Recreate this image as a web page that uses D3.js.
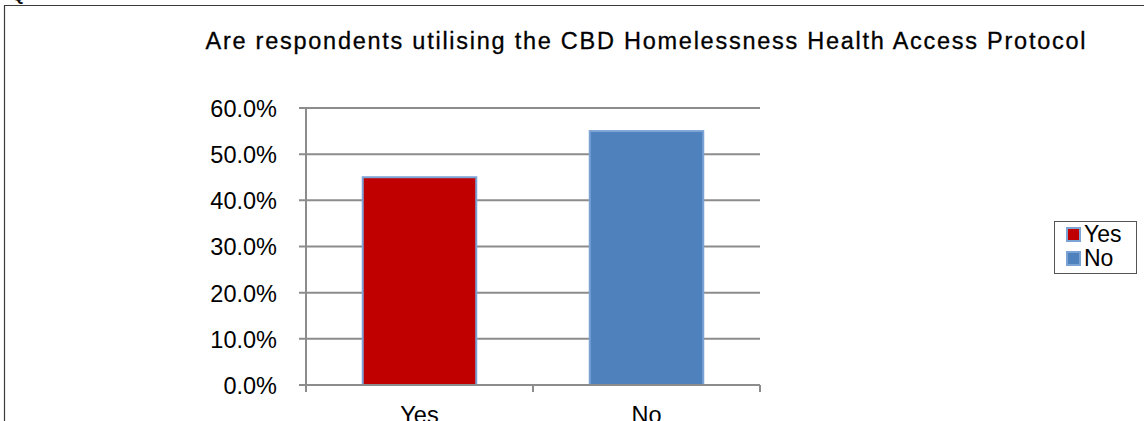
<!DOCTYPE html>
<html>
<head>
<meta charset="utf-8">
<script src="https://cdn.jsdelivr.net/npm/d3@7"></script>
<style>
  html, body { margin: 0; padding: 0; background: #fff; }
  svg { display: block; font-family: "Liberation Sans", Arial, sans-serif; }
</style>
</head>
<body>
<svg id="chart" width="1144" height="421"></svg>
<script>
// Survey answers
const categories = ["Yes", "No"];
const shares = [0.45, 0.55];
const barColors = ["#c00000", "#4f81bd"];
const yTicks = [0, 0.1, 0.2, 0.3, 0.4, 0.5, 0.6];
const title = "Are respondents utilising the CBD Homelessness Health Access Protocol";

const svg = d3.select("#chart");

// Frame around the chart area
svg.append("path")
  .attr("d", "M4.5,421 L4.5,5.5 L1144,5.5")
  .attr("fill", "none")
  .attr("stroke", "#3a3a3a")
  .attr("stroke-width", 1.2);

// Fragment of the preceding line of text above the frame
svg.append("text")
  .attr("x", 12).attr("y", 1)
  .attr("font-size", 16).attr("font-weight", "bold")
  .attr("fill", "#111")
  .text("Q");

const plot = { left: 306, right: 760, top: 108, bottom: 385 };

const x = d3.scaleBand()
  .domain(categories)
  .range([plot.left, plot.right])
  .paddingInner(0.5)
  .paddingOuter(0.25);

const y = d3.scaleLinear()
  .domain([0, 0.6])
  .range([plot.bottom, plot.top]);

// Title
svg.append("text")
  .attr("x", 645.5).attr("y", 49)
  .attr("text-anchor", "middle")
  .attr("font-size", 23.5)
  .attr("textLength", 880)
  .attr("lengthAdjust", "spacing")
  .attr("fill", "#000")
  .attr("stroke", "#000")
  .attr("stroke-width", 0.3)
  .text(title);

// Horizontal gridlines
svg.append("g")
  .selectAll("line")
  .data(yTicks)
  .join("line")
  .attr("x1", plot.left - 7).attr("x2", plot.right)
  .attr("y1", d => y(d)).attr("y2", d => y(d))
  .attr("stroke", "#8c8c8c")
  .attr("stroke-width", 2);

// Y axis labels
const yAxis = d3.axisLeft(y)
  .tickValues(yTicks)
  .tickFormat(d3.format(".1%"))
  .tickSize(0)
  .tickPadding(0);

const gy = svg.append("g")
  .attr("transform", `translate(${plot.left - 29},0)`)
  .call(yAxis);
gy.select(".domain").remove();
gy.selectAll("text")
  .attr("font-size", 23.5)
  .attr("fill", "#000")
  .attr("dy", "0.36em");

// Bars
svg.append("g")
  .selectAll("rect")
  .data(categories)
  .join("rect")
  .attr("x", d => x(d))
  .attr("width", x.bandwidth())
  .attr("y", (d, i) => y(shares[i]))
  .attr("height", (d, i) => y(0) - y(shares[i]))
  .attr("fill", (d, i) => barColors[i])
  .attr("stroke", "#7ba3d6")
  .attr("stroke-width", 2);

// Y axis line
svg.append("line")
  .attr("x1", plot.left).attr("x2", plot.left)
  .attr("y1", plot.top).attr("y2", plot.bottom)
  .attr("stroke", "#8c8c8c")
  .attr("stroke-width", 2);

// X axis line, category boundary ticks and labels
const xAxis = d3.axisBottom(x).tickSize(0).tickPadding(0);
const gx = svg.append("g")
  .attr("transform", `translate(0,${plot.bottom})`)
  .call(xAxis);
gx.select(".domain")
  .attr("d", `M${plot.left},0H${plot.right}`)
  .attr("stroke", "#8c8c8c")
  .attr("stroke-width", 2);
gx.selectAll("text")
  .attr("font-size", 23.5)
  .attr("fill", "#000")
  .attr("dy", 0)
  .attr("y", 38);

const boundaries = [plot.left, (plot.left + plot.right) / 2, plot.right];
gx.selectAll("line.boundary")
  .data(boundaries)
  .join("line")
  .attr("class", "boundary")
  .attr("x1", d => d).attr("x2", d => d)
  .attr("y1", 0).attr("y2", 7)
  .attr("stroke", "#8c8c8c")
  .attr("stroke-width", 2);

// Legend
const legend = svg.append("g");
legend.append("rect")
  .attr("x", 1054.5).attr("y", 221.5)
  .attr("width", 82).attr("height", 52)
  .attr("fill", "#fff")
  .attr("stroke", "#555")
  .attr("stroke-width", 1);

const items = legend.selectAll("g.item")
  .data(categories)
  .join("g")
  .attr("class", "item")
  .attr("transform", (d, i) => `translate(1067,${228 + i * 24})`);
items.append("rect")
  .attr("width", 13).attr("height", 13)
  .attr("fill", (d, i) => barColors[i])
  .attr("stroke", "#7ba3d6")
  .attr("stroke-width", 2);
items.append("text")
  .attr("x", 17).attr("y", 14)
  .attr("font-size", 23)
  .attr("fill", "#000")
  .text(d => d);
</script>
</body>
</html>
